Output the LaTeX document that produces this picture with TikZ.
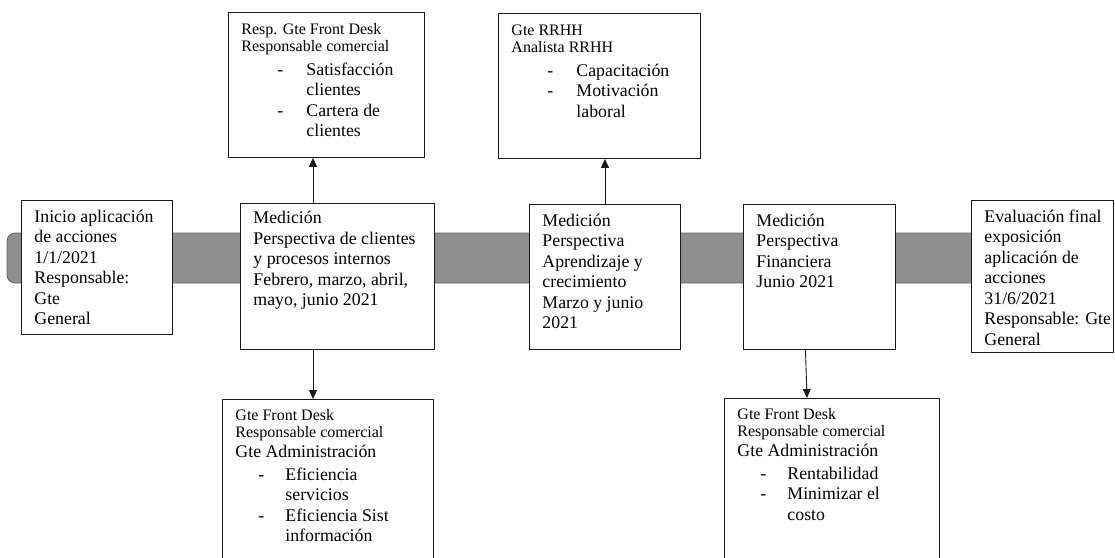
\documentclass[tikz,border=0pt]{standalone}
\usepackage{fontspec}
\setmainfont{Liberation Serif}
\usepackage{xcolor}
\usepackage{tikz}
\usetikzlibrary{arrows.meta}
\definecolor{ink}{HTML}{1A1A1A}
\definecolor{barfill}{HTML}{8E8E8E}
\definecolor{barline}{HTML}{666666}
\newcommand{\nm}{\fontsize{17.8}{20.5}\selectfont}
\newcommand{\sm}{\fontsize{16}{17}\selectfont}
\newlength\padx \setlength\padx{13pt}
\def\dashat{36pt}
\def\textat{65pt}
% caja de texto: ancho, alto, margen arriba, lineas
\newcommand{\cardtext}[4]{\vbox to #2{\lineskiplimit=-\maxdimen
  \hrule height 0pt width #1\relax\prevdepth=0pt\vskip #3\relax #4\vfil}}
\newcommand{\rowN}[1]{{\nm\hbox{\hskip\padx\relax #1}}}
\newcommand{\rowS}[1]{{\sm\hbox{\hskip\padx\relax #1}}}
\newcommand{\rowD}[1]{{\nm\hbox{\hskip\padx\relax\hbox to \textat{\hskip\dashat\relax -\hfil}#1}}}
\newcommand{\rowC}[1]{{\nm\hbox{\hskip\padx\relax\hskip\textat\relax #1}}}
\tikzset{
  card/.style={draw=ink, fill=white, line width=0.9pt, inner sep=0pt, anchor=north west},
  bar/.style={draw=barline, fill=barfill, line width=0.9pt, rounded corners=8pt},
  arr/.style={draw=ink, line width=0.9pt, -{Triangle[length=9pt,width=8pt]}},
}
\begin{document}
\begin{tikzpicture}[x=1pt,y=-1pt]
  \useasboundingbox (0,0) rectangle (1115,557);
  \clip (0,0) rectangle (1115,557);

  % linea de tiempo
  \draw[bar] (1000,233) -- (7,233) -- (7,283) -- (1000,283) -- cycle;

  % hitos sobre la linea
  \node[card] (inicio) at (21,200) {\cardtext{151pt}{134pt}{1.5pt}{%
    \rowN{Inicio aplicación}\rowN{de acciones}\rowN{1/1/2021}%
    \rowN{Responsable:}\rowN{Gte}\rowN{General}}};
  \node[card] (clientes) at (240,203) {\cardtext{194pt}{146pt}{0pt}{%
    \rowN{Medición}\rowN{Perspectiva de clientes}\rowN{y procesos internos}%
    \rowN{Febrero, marzo, abril,}\rowN{mayo, junio 2021}}};
  \node[card] (aprendizaje) at (529,204) {\cardtext{151pt}{145pt}{1.5pt}{%
    \rowN{Medición}\rowN{Perspectiva}\rowN{Aprendizaje y}%
    \rowN{crecimiento}\rowN{Marzo y junio}\rowN{2021}}};
  \node[card] (financiera) at (743,204) {\cardtext{152pt}{145pt}{1.5pt}{%
    \rowN{Medición}\rowN{Perspectiva}\rowN{Financiera}\rowN{Junio 2021}}};
  \node[card] (final) at (971,200) {\cardtext{142pt}{152pt}{1.5pt}{%
    \rowN{Evaluación final}\rowN{exposición}\rowN{aplicación de}%
    \rowN{acciones}\rowN{31/6/2021}\rowN{Responsable: Gte}\rowN{General}}};

  % responsables arriba
  \node[card] (respclientes) at (228,12) {\cardtext{196pt}{145pt}{5.5pt}{%
    \rowS{Resp. Gte Front Desk}\rowS{Responsable comercial}\vskip3pt
    \rowD{Satisfacción}\rowC{clientes}\rowD{Cartera de}\rowC{clientes}}};
  \node[card] (resprrhh) at (498,13) {\cardtext{202pt}{145pt}{5.5pt}{%
    \rowS{Gte RRHH}\rowS{Analista RRHH}\vskip3pt
    \rowD{Capacitación}\rowD{Motivación}\rowC{laboral}}};

  % responsables abajo
  \node[card] (respprocesos) at (222,399) {\cardtext{211pt}{176pt}{4pt}{%
    \def\dashat{23pt}\def\textat{50pt}%
    \rowS{Gte Front Desk}\rowS{Responsable comercial}\rowN{Gte Administración}\vskip2pt
    \rowD{Eficiencia}\rowC{servicios}\rowD{Eficiencia Sist}\rowC{información}}};
  \node[card] (respfinanzas) at (724,398) {\cardtext{215pt}{177pt}{4pt}{%
    \def\dashat{23pt}\def\textat{50pt}%
    \rowS{Gte Front Desk}\rowS{Responsable comercial}\rowN{Gte Administración}\vskip2pt
    \rowD{Rentabilidad}\rowD{Minimizar el}\rowC{costo}}};

  \draw[arr] ([xshift=73pt]clientes.north west) -- ([xshift=73pt]clientes.north west |- respclientes.south);
  \draw[arr] ([xshift=73pt]clientes.south west) -- ([xshift=73pt]clientes.south west |- respprocesos.north);
  \draw[arr] (aprendizaje.north) -- (aprendizaje.north |- resprrhh.south);
  \draw[arr] ([xshift=-14pt]financiera.south) -- ([xshift=83pt]respfinanzas.north west);
\end{tikzpicture}
\end{document}
